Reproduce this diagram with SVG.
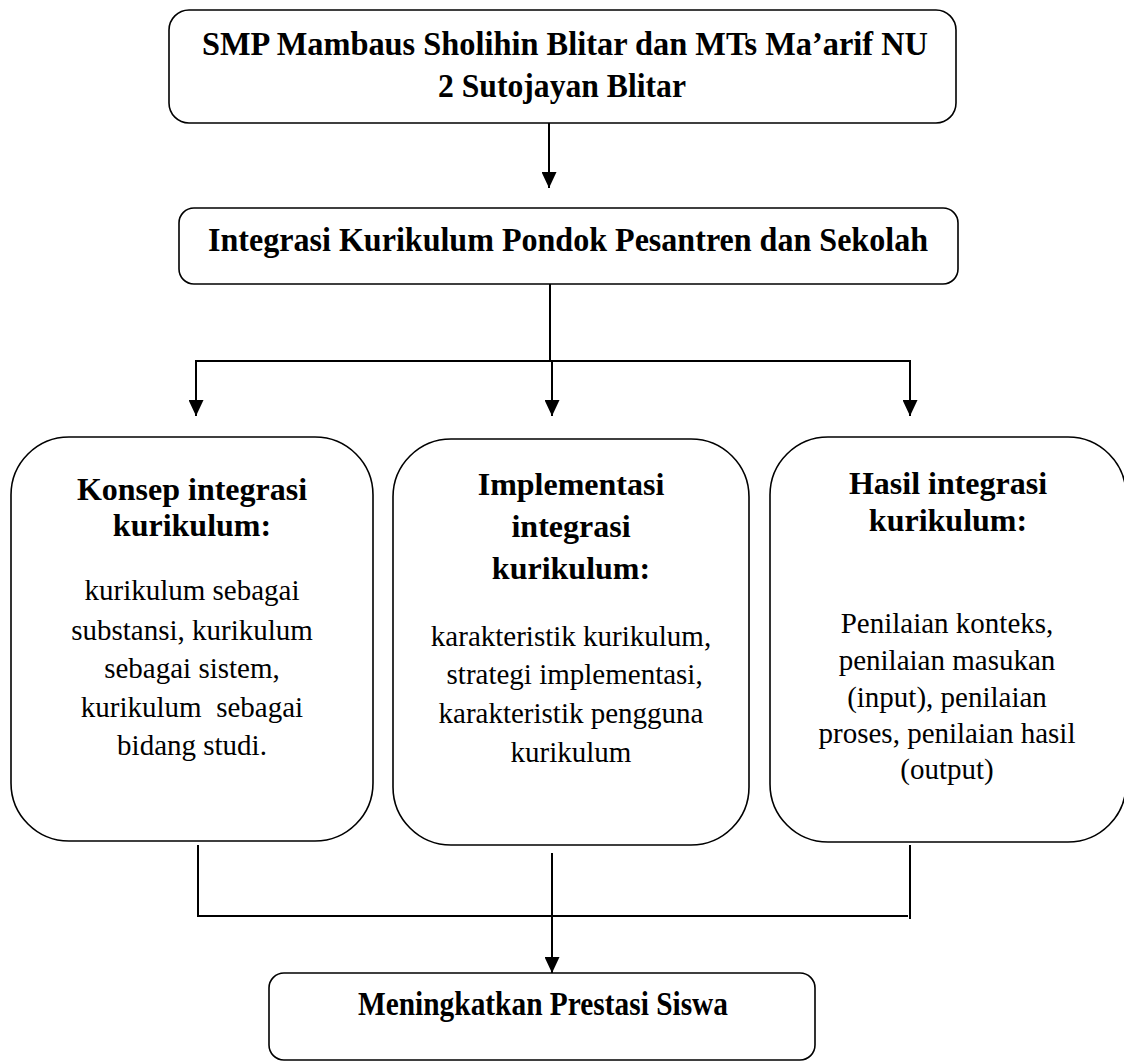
<svg xmlns="http://www.w3.org/2000/svg" width="1124" height="1063" viewBox="0 0 1124 1063">
<style>
.box{fill:#fff;stroke:#000;stroke-width:1.6}
.ln{fill:none;stroke:#000;stroke-width:2}
.t{font-family:"Liberation Serif","Times New Roman",serif;fill:#000;text-anchor:middle}
.b{font-weight:bold}
.tt{font-size:33px}
.h{font-size:32px}
.p{font-size:29px;white-space:pre}
</style>
<defs>
<marker id="ah" markerUnits="userSpaceOnUse" markerWidth="16" markerHeight="15" refX="16" refY="7.5" orient="auto">
<path d="M0,0 L16,7.5 L0,15 z" fill="#000"/>
</marker>
</defs>
<rect width="1124" height="1063" fill="#fff"/>
<g id="connectors">
<line class="ln" x1="549" y1="123" x2="549" y2="188" marker-end="url(#ah)"/>
<line class="ln" x1="550" y1="284" x2="550" y2="361"/>
<line class="ln" x1="196" y1="361" x2="910" y2="361"/>
<line class="ln" x1="196" y1="360" x2="196" y2="416" marker-end="url(#ah)"/>
<line class="ln" x1="552" y1="360" x2="552" y2="416" marker-end="url(#ah)"/>
<line class="ln" x1="910" y1="360" x2="910" y2="416" marker-end="url(#ah)"/>
<line class="ln" x1="198" y1="845" x2="198" y2="917"/>
<line class="ln" x1="910" y1="845" x2="910" y2="919"/>
<line class="ln" x1="197" y1="916" x2="908" y2="916"/>
<line class="ln" x1="552" y1="853" x2="552" y2="973" marker-end="url(#ah)"/>
</g>
<g id="node-sekolah">
<rect class="box" x="169" y="10" width="787" height="113" rx="20"/>
<text class="t b tt" x="565" y="55" textLength="726" lengthAdjust="spacingAndGlyphs">SMP Mambaus Sholihin Blitar dan MTs Ma’arif NU</text>
<text class="t b tt" x="562" y="97" textLength="248" lengthAdjust="spacingAndGlyphs">2 Sutojayan Blitar</text>
</g>
<g id="node-integrasi">
<rect class="box" x="179" y="208" width="779" height="76" rx="15"/>
<text class="t b tt" x="568" y="251" textLength="720" lengthAdjust="spacingAndGlyphs">Integrasi Kurikulum Pondok Pesantren dan Sekolah</text>
</g>
<g id="node-konsep">
<rect class="box" x="11" y="437" width="362" height="404" rx="58"/>
<text class="t b h" x="192" y="500">Konsep integrasi</text>
<text class="t b h" x="192" y="536">kurikulum:</text>
<text class="t p" x="192" y="600">kurikulum sebagai</text>
<text class="t p" x="192" y="640">substansi, kurikulum</text>
<text class="t p" x="192" y="678">sebagai sistem,</text>
<text class="t p" x="192" y="717">kurikulum  sebagai</text>
<text class="t p" x="192" y="755">bidang studi.</text>
</g>
<g id="node-implementasi">
<rect class="box" x="393" y="439" width="356" height="406" rx="58"/>
<text class="t b h" x="571" y="495">Implementasi</text>
<text class="t b h" x="571" y="537">integrasi</text>
<text class="t b h" x="571" y="579">kurikulum:</text>
<text class="t p" x="571" y="646">karakteristik kurikulum,</text>
<text class="t p" x="571" y="684"> strategi implementasi,</text>
<text class="t p" x="571" y="723">karakteristik pengguna</text>
<text class="t p" x="571" y="762">kurikulum</text>
</g>
<g id="node-hasil">
<rect class="box" x="770" y="437" width="356" height="405" rx="58"/>
<text class="t b h" x="948" y="494">Hasil integrasi</text>
<text class="t b h" x="948" y="531">kurikulum:</text>
<text class="t p" x="947" y="633">Penilaian konteks,</text>
<text class="t p" x="947" y="670">penilaian masukan</text>
<text class="t p" x="947" y="707">(input), penilaian</text>
<text class="t p" x="947" y="743">proses, penilaian hasil</text>
<text class="t p" x="947" y="779">(output)</text>
</g>
<g id="node-prestasi">
<rect class="box" x="269" y="973" width="546" height="87" rx="15"/>
<text class="t b tt" x="543" y="1015" textLength="370" lengthAdjust="spacingAndGlyphs">Meningkatkan Prestasi Siswa</text>
</g>
</svg>
